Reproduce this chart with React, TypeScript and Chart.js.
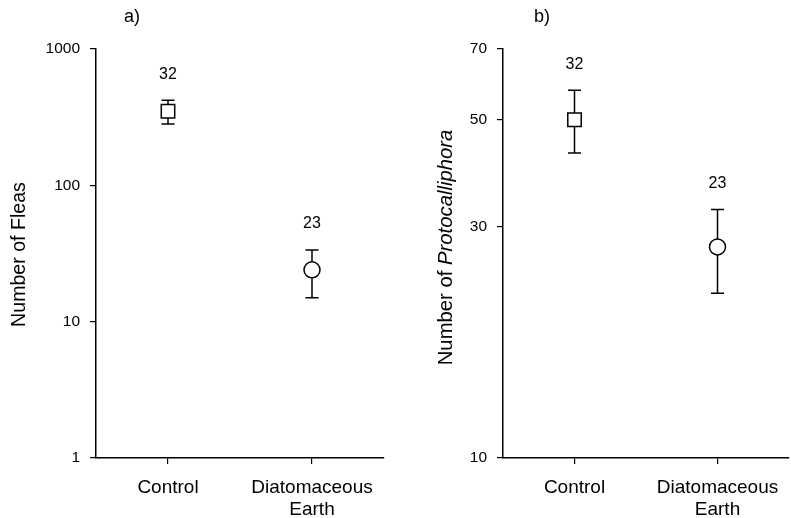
import React, { useEffect, useRef } from "react";
import { Chart, registerables } from "chart.js";

Chart.register(...registerables);

// ---------- data ----------
const categories: string[][] = [["Control"], ["Diatomaceous", "Earth"]];
const sampleSizes = [32, 23];
const markerStyles = ["rect", "circle"];

const fleaMeans = [350, 24];
const fleaUpper = [420, 33.5];
const fleaLower = [282, 15];
const fleaTicks = [1, 10, 100, 1000];

const protoMeans = [50, 27.3];
const protoUpper = [57.5, 32.6];
const protoLower = [42.7, 21.9];
const protoTicks = [10, 30, 50, 70];

const FONT = '"Liberation Sans", Arial, Helvetica, sans-serif';

type TitlePart = { text: string; italic: boolean };

interface PanelCfg {
  means: number[];
  upper: number[];
  lower: number[];
  ticks: number[];
  min: number;
  max: number;
  letter: string;
  letterDx: number;
  titleParts: TitlePart[];
  titleX: number;
  titleDy: number;
  titleSize: number;
  yWidth: number;
  padRight: number;
}

function makePlugin(cfg: PanelCfg) {
  return {
    id: "errorBars",
    beforeDatasetsDraw(chart: any) {
      const { ctx, scales, chartArea } = chart;
      const meta = chart.getDatasetMeta(0);
      ctx.save();
      ctx.strokeStyle = "#000";
      ctx.lineWidth = 1.5;
      ctx.fillStyle = "#000";
      cfg.upper.forEach((u, i) => {
        const x = meta.data[i].x;
        const yU = scales.y.getPixelForValue(u);
        const yL = scales.y.getPixelForValue(cfg.lower[i]);
        ctx.beginPath();
        ctx.moveTo(x, yU);
        ctx.lineTo(x, yL);
        ctx.moveTo(x - 6.5, yU);
        ctx.lineTo(x + 6.5, yU);
        ctx.moveTo(x - 6.5, yL);
        ctx.lineTo(x + 6.5, yL);
        ctx.stroke();
        ctx.font = `16px ${FONT}`;
        ctx.textAlign = "center";
        ctx.textBaseline = "middle";
        ctx.fillText(String(sampleSizes[i]), x, yU - 26);
      });
      // panel letter
      ctx.font = `18px ${FONT}`;
      ctx.textAlign = "center";
      ctx.textBaseline = "middle";
      ctx.fillText(cfg.letter, chartArea.left + cfg.letterDx, 17);
      // y title (mixed fonts)
      const cy = (chartArea.top + chartArea.bottom) / 2 + cfg.titleDy;
      ctx.translate(cfg.titleX, cy);
      ctx.rotate(-Math.PI / 2);
      const fonts = cfg.titleParts.map(
        (p) => `${p.italic ? "italic " : ""}${cfg.titleSize}px ${FONT}`
      );
      let total = 0;
      const widths = cfg.titleParts.map((p, i) => {
        ctx.font = fonts[i];
        const w = ctx.measureText(p.text).width;
        total += w;
        return w;
      });
      let xPos = -total / 2;
      ctx.textAlign = "left";
      cfg.titleParts.forEach((p, i) => {
        ctx.font = fonts[i];
        ctx.fillText(p.text, xPos, 0);
        xPos += widths[i];
      });
      ctx.restore();
    },
  };
}

function buildConfig(cfg: PanelCfg): any {
  return {
    type: "line",
    data: {
      labels: categories,
      datasets: [
        {
          data: cfg.means,
          showLine: false,
          pointStyle: markerStyles,
          pointRadius: [9.5, 8],
          pointHoverRadius: [9.5, 8],
          pointBackgroundColor: "#fff",
          pointBorderColor: "#000",
          pointBorderWidth: 1.5,
          clip: false,
        },
      ],
    },
    options: {
      animation: false,
      responsive: false,
      events: [],
      layout: { padding: { top: 49, right: cfg.padRight, left: 0, bottom: 0 } },
      plugins: { legend: { display: false }, tooltip: { enabled: false } },
      scales: {
        x: {
          type: "category",
          offset: true,
          grid: {
            offset: false,
            drawOnChartArea: false,
            drawTicks: true,
            tickLength: 6,
            color: "#000",
            lineWidth: 1.2,
          },
          border: { display: true, color: "#000", width: 1.5 },
          ticks: {
            autoSkip: false,
            maxRotation: 0,
            minRotation: 0,
            padding: 12,
            color: "#000",
            font: { size: 19, family: FONT, lineHeight: 1.2 },
          },
          afterFit: (s: any) => {
            s.height = 60;
          },
        },
        y: {
          type: "logarithmic",
          min: cfg.min,
          max: cfg.max,
          grid: {
            drawOnChartArea: false,
            drawTicks: true,
            tickLength: 6,
            color: "#000",
            lineWidth: 1.2,
          },
          border: { display: true, color: "#000", width: 1.5 },
          ticks: {
            padding: 10,
            color: "#000",
            font: { size: 15.5, family: FONT },
            callback: (v: any) => String(v),
          },
          afterBuildTicks: (s: any) => {
            s.ticks = cfg.ticks.map((v) => ({ value: v }));
          },
          afterFit: (s: any) => {
            s.width = cfg.yWidth;
          },
        },
      },
    },
    plugins: [makePlugin(cfg)],
  };
}

function Panel({ left, width, cfg }: { left: number; width: number; cfg: PanelCfg }) {
  const ref = useRef<HTMLCanvasElement | null>(null);
  useEffect(() => {
    if (!ref.current) return;
    const chart = new Chart(ref.current, buildConfig(cfg));
    return () => chart.destroy();
  }, []);
  return (
    <canvas
      ref={ref}
      width={width}
      height={518}
      style={{ position: "absolute", left, top: 0, width, height: 518 }}
    />
  );
}

const fleaCfg: PanelCfg = {
  means: fleaMeans,
  upper: fleaUpper,
  lower: fleaLower,
  ticks: fleaTicks,
  min: 1,
  max: 1000,
  letter: "a)",
  letterDx: 36,
  titleParts: [{ text: "Number of Fleas", italic: false }],
  titleX: 20,
  titleDy: 1,
  titleSize: 19.6,
  yWidth: 96,
  padRight: 8,
};

const protoCfg: PanelCfg = {
  means: protoMeans,
  upper: protoUpper,
  lower: protoLower,
  ticks: protoTicks,
  min: 10,
  max: 70,
  letter: "b)",
  letterDx: 39,
  titleParts: [
    { text: "Number of ", italic: false },
    { text: "Protocalliphora", italic: true },
  ],
  titleX: 51.5,
  titleDy: -6,
  titleSize: 20.3,
  yWidth: 108,
  padRight: 4,
};

export default function App() {
  return (
    <div
      style={{
        position: "absolute",
        left: 0,
        top: 0,
        width: 791,
        height: 518,
        overflow: "hidden",
        background: "#fff",
      }}
    >
      <Panel left={0} width={395} cfg={fleaCfg} />
      <Panel left={395} width={405} cfg={protoCfg} />
    </div>
  );
}
